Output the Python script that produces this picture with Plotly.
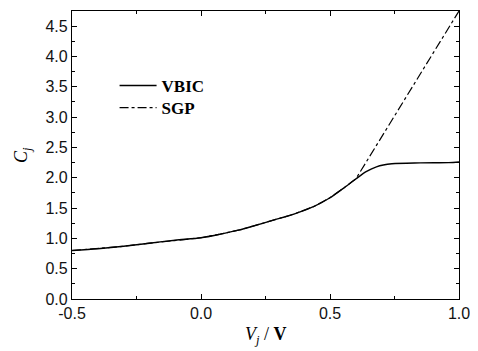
import plotly.graph_objects as go

vbic_x = [-0.5, -0.4, -0.3, -0.2, -0.1, 0.0, 0.075, 0.15, 0.2, 0.28, 0.36, 0.44, 0.5, 0.55, 0.6, 0.64, 0.68, 0.74, 0.85, 0.96, 1.0]
vbic_y = [0.80, 0.83, 0.87, 0.92, 0.97, 1.01, 1.07, 1.14, 1.20, 1.30, 1.40, 1.53, 1.67, 1.82, 1.98, 2.10, 2.18, 2.23, 2.245, 2.25, 2.26]

sgp_x = [-0.5, -0.4, -0.3, -0.2, -0.1, 0.0, 0.075, 0.15, 0.2, 0.28, 0.36, 0.44, 0.5, 0.55, 0.6, 1.0]
sgp_y = [0.80, 0.83, 0.87, 0.92, 0.97, 1.01, 1.07, 1.14, 1.20, 1.30, 1.40, 1.53, 1.67, 1.82, 1.98, 4.75]

x_ticks = [-0.5, 0.0, 0.5, 1.0]
y_ticks = [0.0, 0.5, 1.0, 1.5, 2.0, 2.5, 3.0, 3.5, 4.0, 4.5]

fig = go.Figure()
fig.add_trace(go.Scatter(x=sgp_x, y=sgp_y, mode="lines", name="<b>SGP</b>", legend="legend2",
                         line=dict(color="black", width=1.2, dash="dashdot")))
fig.add_trace(go.Scatter(x=vbic_x, y=vbic_y, mode="lines", name="<b>VBIC</b>", legend="legend",
                         line=dict(color="black", width=1.4, shape="spline", smoothing=0.8)))

axis_common = dict(showgrid=False, zeroline=False, showline=True, linecolor="black",
                   linewidth=1.2, mirror="ticks", ticks="inside", ticklen=5, tickwidth=1,
                   tickcolor="black",
                   tickfont=dict(family="Liberation Sans, Arial", size=16, color="#111111"))

fig.update_xaxes(range=[-0.5, 1.0], tickvals=x_ticks, ticktext=[f"{v:.1f}" for v in x_ticks],
                 minor=dict(ticks="inside", ticklen=3, dtick=0.25, tick0=-0.5, tickcolor="black"),
                 **axis_common)
fig.update_yaxes(range=[0, 4.75], tickvals=y_ticks, ticktext=[f"{v:.1f}" for v in y_ticks],
                 minor=dict(ticks="inside", ticklen=3, dtick=0.25, tick0=0, tickcolor="black"),
                 **axis_common)

fig.add_annotation(text="<i>C<sub>j</sub></i>", xref="paper", yref="paper",
                   x=-0.129, y=0.5, xanchor="center", yanchor="middle", textangle=-90,
                   showarrow=False, font=dict(family="Liberation Serif, Times New Roman", size=18, color="black"))
fig.add_annotation(text="<i>V<sub>j</sub></i> / <b>V</b>", xref="paper", yref="paper",
                   x=0.5, y=-0.127, xanchor="center", yanchor="middle",
                   showarrow=False, font=dict(family="Liberation Serif, Times New Roman", size=18, color="black"))

legend_common = dict(xanchor="left", yanchor="middle", bgcolor="rgba(0,0,0,0)", borderwidth=0,
                     itemwidth=37,
                     font=dict(family="Liberation Serif, Times New Roman", size=17, color="black"))

fig.update_layout(
    width=470, height=343,
    margin=dict(l=64, r=19, t=3, b=52),
    plot_bgcolor="white", paper_bgcolor="white",
    legend=dict(x=0.11, y=0.74, **legend_common),
    legend2=dict(x=0.11, y=0.663, **legend_common),
    showlegend=True,
)

fig.write_html("out.html")
